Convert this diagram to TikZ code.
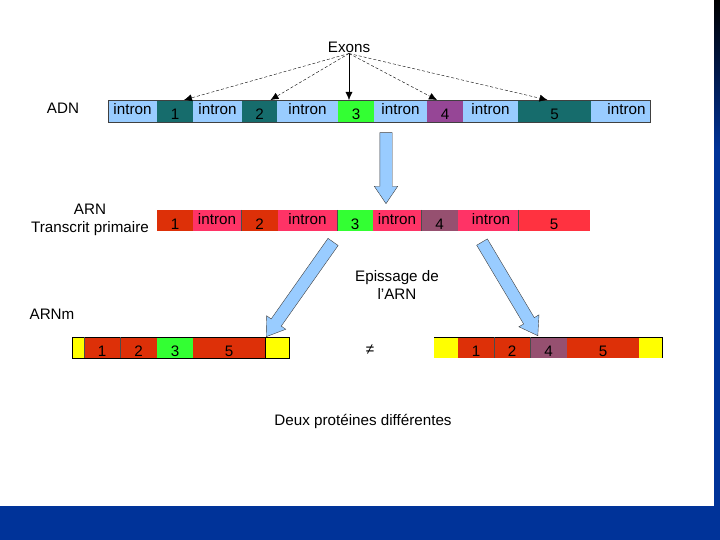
\documentclass[tikz,border=0pt]{standalone}
\usepackage{fontspec}
\setmainfont{Liberation Sans}
\usetikzlibrary{arrows.meta, positioning, shapes.arrows, calc}

\definecolor{adnintron}{RGB}{153,204,255}
\definecolor{adnexon}{RGB}{22,108,108}
\definecolor{exonvert}{RGB}{51,255,51}
\definecolor{adnviolet}{RGB}{150,70,150}
\definecolor{arnrouge}{RGB}{221,48,8}
\definecolor{arnrose}{RGB}{255,51,102}
\definecolor{arnmauve}{RGB}{150,80,112}
\definecolor{arncinq}{RGB}{255,50,64}
\definecolor{capjaune}{RGB}{255,255,0}
\definecolor{fleche}{RGB}{153,204,255}
\definecolor{bandeau}{RGB}{0,51,153}

\begin{document}
\begin{tikzpicture}[x=1pt, y=-1pt,
        seg/.style={rectangle, inner sep=0pt, outer sep=0pt, minimum height=22pt, anchor=west,
            font=\fontsize{15.2}{16}\selectfont},
        intron/.style={seg, text height=9pt, text depth=1pt},
        exon/.style={seg, text height=18pt, text depth=0pt},
        capseg/.style={seg, fill=capjaune},
        txt/.style={font=\fontsize{15.2}{17.5}\selectfont, align=center, inner sep=1pt},
        exonarrow/.style={-{Latex[length=8pt, width=7pt]}, dashed, dash pattern=on 3pt off 2pt, thin},
        bigarrow/.style={single arrow, draw=black!75, fill=fleche, thin, inner xsep=0pt, inner ysep=6pt,
            minimum width=23pt, single arrow head extend=5.5pt, single arrow tip angle=68},
        divider/.style={black!70, thin}
    ]

    \useasboundingbox (0,0) rectangle (720,540);

    % Frame of the slide
    \fill[bandeau] (0,506) rectangle (720,540);
    \shade[top color=black, bottom color=bandeau] (714,0) rectangle (720,150);
    \fill[bandeau] (714,150) rectangle (720,506);

    % ADN
    \node[txt] (adn) at (63,108) {ADN};
    \node[intron, fill=adnintron, minimum width=49pt] (di0) at (108,111) {intron};
    \node[exon, fill=adnexon, minimum width=36pt, right=0pt of di0] (de1) {1};
    \node[intron, fill=adnintron, minimum width=49pt, right=0pt of de1] (di1) {intron};
    \node[exon, fill=adnexon, minimum width=35pt, right=0pt of di1] (de2) {2};
    \node[intron, fill=adnintron, minimum width=61pt, right=0pt of de2] (di2) {intron};
    \node[exon, fill=exonvert, minimum width=36pt, right=0pt of di2] (de3) {3};
    \node[intron, fill=adnintron, minimum width=53pt, right=0pt of de3] (di3) {intron};
    \node[exon, fill=adnviolet, minimum width=36pt, right=0pt of di3] (de4) {4};
    \node[intron, fill=adnintron, minimum width=55pt, right=0pt of de4] (di4) {intron};
    \node[exon, fill=adnexon, minimum width=73pt, right=0pt of di4] (de5) {5};
    \node[intron, fill=adnintron, minimum width=59pt, right=0pt of de5] (di5) {\hspace{12pt}intron};
    \draw[black!75, thin] (di0.north west) rectangle (di5.south east);

    % Exons
    \node[txt] (exons) at (349,47) {Exons};
    \draw[exonarrow] (exons.south) -- ([xshift=9pt]de1.north);
    \draw[exonarrow] (exons.south) -- ([xshift=11pt]de2.north);
    \draw[-{Latex[length=8pt, width=7pt]}, thin] (exons.south) -- ([xshift=-7pt]de3.north);
    \draw[exonarrow] (exons.south) -- ([xshift=-8pt]de4.north);
    \draw[exonarrow] (exons.south) -- ([xshift=-7pt]de5.north);

    % ARN transcrit primaire
    \node[txt] (arn) at (90,220) {ARN\\Transcrit primaire};
    \node[exon, fill=arnrouge, minimum width=36pt, minimum height=21pt] (re1) at (157,220.5) {1};
    \node[intron, fill=arnrose, minimum width=48pt, minimum height=21pt, right=0pt of re1] (ri1) {intron};
    \node[exon, fill=arnrouge, minimum width=37pt, minimum height=21pt, right=0pt of ri1] (re2) {2};
    \node[intron, fill=arnrose, minimum width=59pt, minimum height=21pt, right=0pt of re2] (ri2) {intron};
    \node[exon, fill=exonvert, minimum width=36pt, minimum height=21pt, right=0pt of ri2] (re3) {3};
    \node[intron, fill=arnrose, minimum width=48pt, minimum height=21pt, right=0pt of re3] (ri3) {intron};
    \node[exon, fill=arnmauve, minimum width=37pt, minimum height=21pt, right=0pt of ri3] (re4) {4};
    \node[intron, fill=arnrose, minimum width=60pt, minimum height=21pt, right=0pt of re4] (ri4) {\hspace{6pt}intron};
    \node[exon, fill=arncinq, minimum width=72pt, minimum height=21pt, right=0pt of ri4] (re5) {5};
    \draw[divider] (re2.north west) -- (re2.south west);
    \draw[divider] (re3.north west) -- (re3.south west);
    \draw[divider] (re4.north west) -- (re4.south west);
    \draw[divider] (re5.north west) -- (re5.south west);

    % Transcription
    \node[bigarrow, rotate=-90, minimum height=71pt, anchor=tip] (transcr) at ([xshift=13pt, yshift=6pt]re3.north east) {};

    % ARNm
    \node[txt] (arnm) at (52,314) {ARNm};
    \node[capseg, minimum width=12pt, minimum height=21pt] (ly0) at (72,347.5) {};
    \node[exon, fill=arnrouge, minimum width=36pt, minimum height=21pt, right=0pt of ly0] (l1) {1};
    \node[exon, fill=arnrouge, minimum width=37pt, minimum height=21pt, right=0pt of l1] (l2) {2};
    \node[exon, fill=exonvert, minimum width=36pt, minimum height=21pt, right=0pt of l2] (l3) {3};
    \node[exon, fill=arnrouge, minimum width=72pt, minimum height=21pt, right=0pt of l3] (l5) {5};
    \node[capseg, minimum width=24pt, minimum height=21pt, right=0pt of l5] (ly1) {};
    \draw[black, thin] (ly0.north west) rectangle (ly1.south east);
    \draw[divider] (l1.north west) -- (l1.south west);
    \draw[divider] (l2.north west) -- (l2.south west);
    \draw[black, thin] (ly1.north west) -- (ly1.south west);

    \node[capseg, minimum width=24pt, minimum height=21pt] (ry0) at (434,347.5) {};
    \node[exon, fill=arnrouge, minimum width=36pt, minimum height=21pt, right=0pt of ry0] (r1) {1};
    \node[exon, fill=arnrouge, minimum width=36pt, minimum height=21pt, right=0pt of r1] (r2) {2};
    \node[exon, fill=arnmauve, minimum width=37pt, minimum height=21pt, right=0pt of r2] (r4) {4};
    \node[exon, fill=arnrouge, minimum width=72pt, minimum height=21pt, right=0pt of r4] (r5) {5};
    \node[capseg, minimum width=23pt, minimum height=21pt, right=0pt of r5] (ry1) {};
    \draw[black, thin] (ry0.north west) -- (ry1.north east) -- (ry1.south east);
    \draw[divider] (r2.north west) -- (r2.south west);
    \draw[divider] (r4.north west) -- (r4.south west);

    % Epissage
    \node[txt] (episs) at (397,285) {Epissage de\\l'ARN};
    \node[bigarrow, rotate=-125.2, minimum height=116pt, anchor=tip] (epissL) at ([xshift=1pt]ly1.north west) {};
    \node[bigarrow, rotate=-59.2, minimum height=109pt, anchor=tip] (epissR) at ([xshift=8pt, yshift=1pt]r4.north west) {};

    \node[txt] (neq) at (370,350) {≠};
    \node[txt] (prot) at (363,421) {Deux protéines différentes};

\end{tikzpicture}
\end{document}
